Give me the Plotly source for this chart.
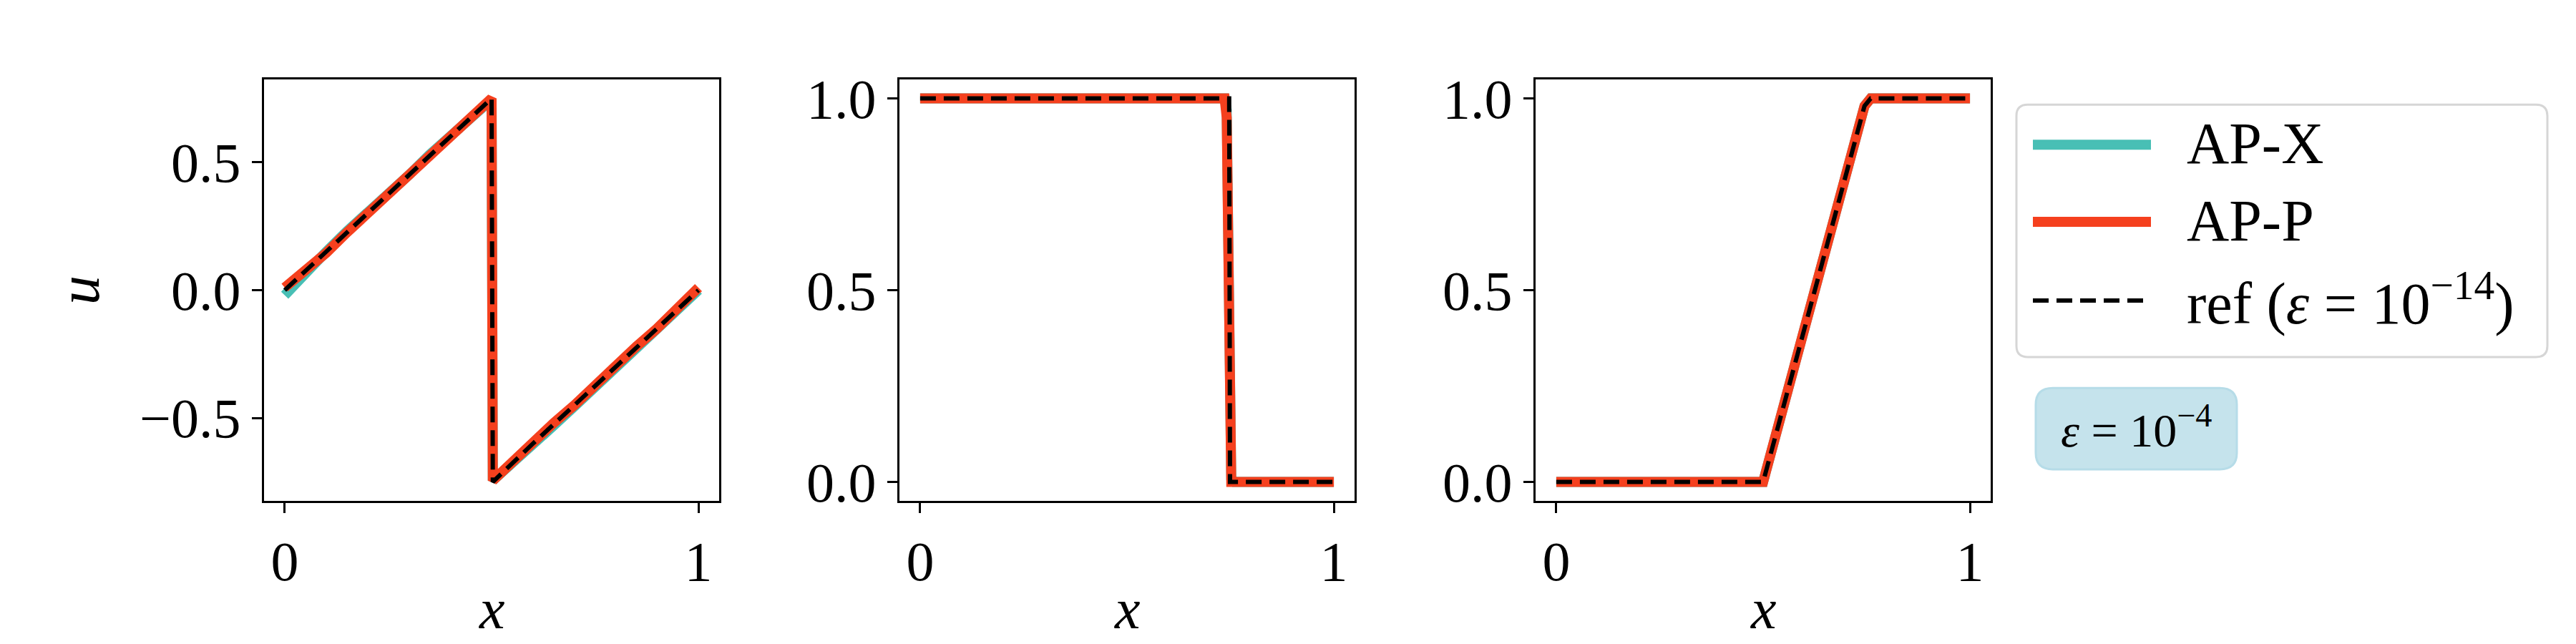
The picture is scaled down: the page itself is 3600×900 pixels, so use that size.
import plotly.graph_objects as go

W, H = 3600, 900

# --- data -----------------------------------------------------------------
# panel 1: sawtooth (shock at x = 0.5)
x_saw = [0.0, 0.05, 0.1, 0.15, 0.2, 0.25, 0.3, 0.35, 0.4, 0.45, 0.5,
         0.503, 0.55, 0.6, 0.65, 0.7, 0.75, 0.8, 0.85, 0.9, 0.95, 1.0]
saw_apx = [-0.02, 0.07, 0.15, 0.23, 0.30, 0.38, 0.45, 0.53, 0.60, 0.68, 0.745,
           -0.745, -0.68, -0.60, -0.53, -0.455, -0.38, -0.30, -0.23, -0.15, -0.08, 0.0]
saw_app = [0.01, 0.075, 0.145, 0.225, 0.30, 0.37, 0.45, 0.52, 0.60, 0.67, 0.75,
           -0.745, -0.67, -0.60, -0.52, -0.45, -0.37, -0.30, -0.22, -0.15, -0.07, 0.01]
saw_ref = [0.0, 0.075, 0.15, 0.225, 0.30, 0.375, 0.45, 0.525, 0.60, 0.675, 0.75,
           -0.75, -0.675, -0.60, -0.525, -0.45, -0.375, -0.30, -0.225, -0.15, -0.075, 0.0]

# panel 2: step down at x = 0.75
x_step_num = [0.0, 0.25, 0.5, 0.736, 0.741, 0.746, 0.752, 0.76, 1.0]
step_apx = [1.0, 1.0, 1.0, 1.0, 0.97, 0.5, 0.01, 0.0, 0.0]
step_app = [1.0, 1.0, 1.0, 1.0, 0.95, 0.5, 0.0, 0.0, 0.0]
x_step_ref = [0.0, 0.25, 0.5, 0.747, 0.749, 1.0]
step_ref = [1.0, 1.0, 1.0, 1.0, 0.0, 0.0]

# panel 3: ramp from x = 0.5 to x = 0.75
x_ramp = [0.0, 0.25, 0.5, 0.55, 0.6, 0.65, 0.7, 0.745, 0.76, 0.8, 0.9, 1.0]
ramp_apx = [0.0, 0.0, 0.0, 0.2, 0.4, 0.6, 0.8, 0.98, 1.0, 1.0, 1.0, 1.0]
ramp_app = [0.0, 0.0, 0.0, 0.2, 0.41, 0.6, 0.8, 0.98, 1.0, 1.0, 1.0, 1.0]
ramp_ref = [0.0, 0.0, 0.0, 0.2, 0.4, 0.6, 0.8, 0.98, 1.0, 1.0, 1.0, 1.0]

names = ["AP-X", "AP-P", "ref (<i>ε</i> = 10<sup>−14</sup>)"]
colors = ["#48bfb5", "#f5401e", "black"]
eps_label = "<i>ε</i> = 10<sup>−4</sup>"

FONT = "Liberation Serif"
LW = 14

fig = go.Figure()

panels = [
    (x_saw, saw_apx, x_saw, saw_app, x_saw, saw_ref),
    (x_step_num, step_apx, x_step_num, step_app, x_step_ref, step_ref),
    (x_ramp, ramp_apx, x_ramp, ramp_app, x_ramp, ramp_ref),
]
for i, (xa, ya, xp, yp, xr, yr) in enumerate(panels):
    ax = "" if i == 0 else str(i + 1)
    fig.add_trace(go.Scatter(x=xa, y=ya, mode="lines", name=names[0],
                             line=dict(color=colors[0], width=LW),
                             xaxis="x" + ax, yaxis="y" + ax, showlegend=False))
    fig.add_trace(go.Scatter(x=xp, y=yp, mode="lines", name=names[1],
                             line=dict(color=colors[1], width=LW),
                             xaxis="x" + ax, yaxis="y" + ax, showlegend=False))
    fig.add_trace(go.Scatter(x=xr, y=yr, mode="lines", name=names[2],
                             line=dict(color=colors[2], width=6, dash="22px,11px"),
                             xaxis="x" + ax, yaxis="y" + ax, showlegend=False))

# panel positions (pixels)
left = [361, 1249, 2138]
pw = 636
top, bottom = 90, 702


def fx(p):
    return p / W


def fy(p):
    return 1 - p / H


axis_common = dict(showline=True, linecolor="black", linewidth=3, mirror=True,
                   ticks="outside", ticklen=14, tickwidth=3, tickcolor="black",
                   showgrid=False, zeroline=False,
                   tickfont=dict(family=FONT, size=78, color="black"))

layout = {}
annotations = []
for i in range(3):
    k = "" if i == 0 else str(i + 1)
    layout["xaxis" + k] = dict(
        axis_common, domain=[fx(left[i]), fx(left[i] + pw)], range=[-0.05, 1.05],
        tickvals=[0, 1], ticktext=["0", "1"], anchor="y" + k)
    if i == 0:
        yr_, tv, tt = [-0.825, 0.825], [-0.5, 0, 0.5], ["−0.5", "0.0", "0.5"]
    else:
        yr_, tv, tt = [-0.05, 1.05], [0, 0.5, 1], ["0.0", "0.5", "1.0"]
    layout["yaxis" + k] = dict(
        axis_common, domain=[fy(bottom), fy(top)], range=yr_,
        tickvals=tv, ticktext=tt, anchor="x" + k)
    # x-axis title placed under each panel
    annotations.append(dict(xref=f"x{k} domain", yref="paper", x=0.5, y=fy(858),
                            xanchor="center", yanchor="middle", showarrow=False,
                            text="<i>x</i>",
                            font=dict(family=FONT, size=80, color="black")))
layout["yaxis"]["title"] = dict(text="<i>u</i>",
                                font=dict(family=FONT, size=82, color="black"),
                                standoff=30)
fig.update_layout(**layout)


def rounded(x0, y0, x1, y1, r):
    # rounded rectangle in paper coordinates from pixel corners
    rx, ry = r / W, r / H
    X0, X1, Y0, Y1 = fx(x0), fx(x1), fy(y0), fy(y1)
    return (f"M {X0+rx},{Y0} L {X1-rx},{Y0} Q {X1},{Y0} {X1},{Y0-ry} "
            f"L {X1},{Y1+ry} Q {X1},{Y1} {X1-rx},{Y1} L {X0+rx},{Y1} "
            f"Q {X0},{Y1} {X0},{Y1+ry} L {X0},{Y0-ry} Q {X0},{Y0} {X0+rx},{Y0} Z")


shapes = [
    dict(type="path", xref="paper", yref="paper", path=rounded(2810, 127, 3552, 493, 16),
         line=dict(color="#d6d6d6", width=3), fillcolor="white", layer="above"),
    dict(type="path", xref="paper", yref="paper", path=rounded(2837, 538, 3118, 656, 24),
         line=dict(color="#b6dce8", width=3), fillcolor="#c5e3ec", layer="above"),
]
rows = [185, 297, 411]
for j in range(3):
    ln = dict(color=colors[j], width=LW if j < 2 else 6)
    if j == 2:
        ln["dash"] = "22px,11px"
    shapes.append(dict(type="line", xref="paper", yref="paper",
                       x0=fx(2833), x1=fx(2998), y0=fy(rows[j]), y1=fy(rows[j]),
                       line=ln, layer="above"))
    annotations.append(dict(xref="paper", yref="paper", x=fx(3046), y=fy(rows[j] - 2),
                            xanchor="left", yanchor="middle", showarrow=False,
                            text=names[j],
                            font=dict(family=FONT, size=82, color="black")))
annotations.append(dict(xref="paper", yref="paper", x=fx(2977), y=fy(594),
                        xanchor="center", yanchor="middle", showarrow=False,
                        text=eps_label, font=dict(family=FONT, size=66, color="black")))

fig.update_layout(
    width=W, height=H,
    margin=dict(l=0, r=0, t=0, b=0, pad=0),
    paper_bgcolor="white", plot_bgcolor="white",
    showlegend=False,
    shapes=shapes, annotations=annotations,
)

fig.write_html("out.html")
